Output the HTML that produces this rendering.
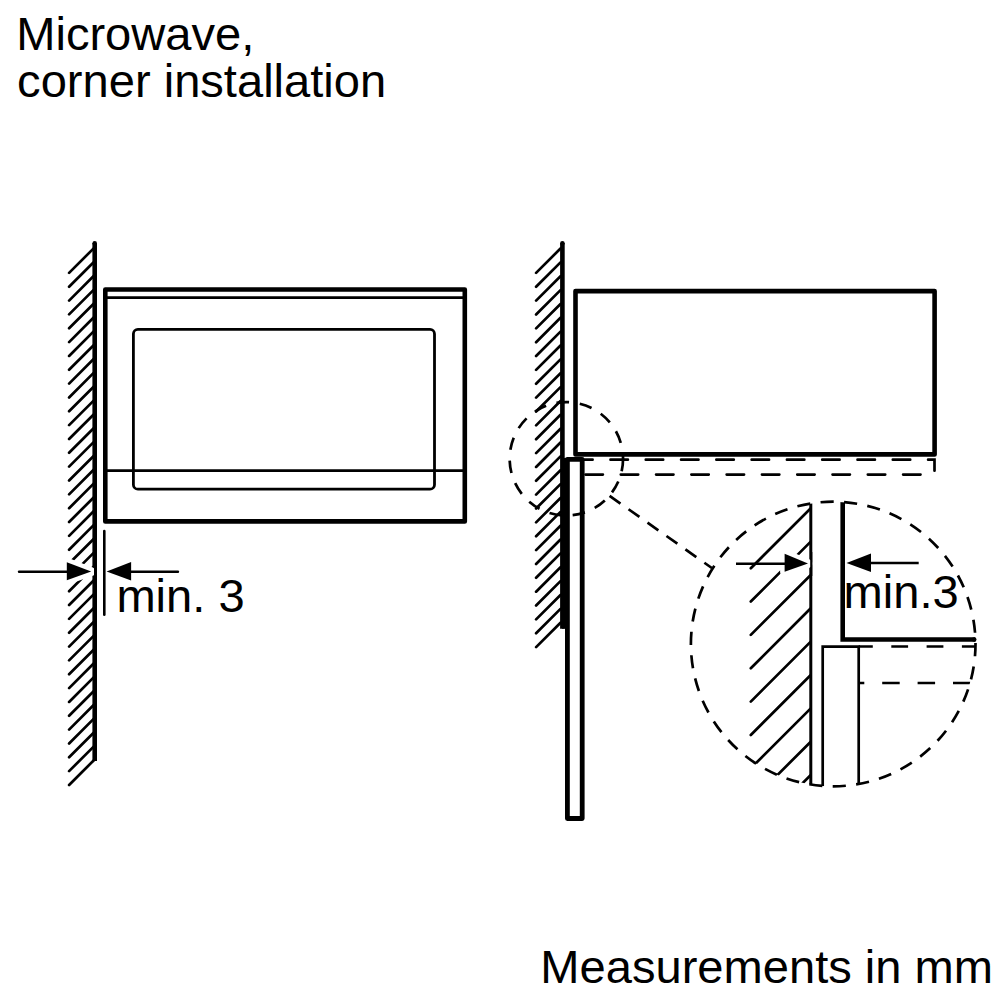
<!DOCTYPE html>
<html><head><meta charset="utf-8"><style>
html,body{margin:0;padding:0;background:#fff;width:1000px;height:1000px;overflow:hidden}
svg{display:block}
text{font-family:"Liberation Sans",sans-serif;fill:#000}
</style></head><body>
<svg width="1000" height="1000" viewBox="0 0 1000 1000">
<rect width="1000" height="1000" fill="#fff"/>
<path d="M69.1 272.90L94.4 247.60M69.1 286.74L94.4 261.44M69.1 300.58L94.4 275.28M69.1 314.42L94.4 289.12M69.1 328.26L94.4 302.96M69.1 342.10L94.4 316.80M69.1 355.94L94.4 330.64M69.1 369.78L94.4 344.48M69.1 383.62L94.4 358.32M69.1 397.46L94.4 372.16M69.1 411.30L94.4 386.00M69.1 425.14L94.4 399.84M69.1 438.98L94.4 413.68M69.1 452.82L94.4 427.52M69.1 466.66L94.4 441.36M69.1 480.50L94.4 455.20M69.1 494.34L94.4 469.04M69.1 508.18L94.4 482.88M69.1 522.02L94.4 496.72M69.1 535.86L94.4 510.56M69.1 549.70L94.4 524.40M69.1 563.54L94.4 538.24M69.1 577.38L94.4 552.08M69.1 591.22L94.4 565.92M69.1 605.06L94.4 579.76M69.1 618.90L94.4 593.60M69.1 632.74L94.4 607.44M69.1 646.58L94.4 621.28M69.1 660.42L94.4 635.12M69.1 674.26L94.4 648.96M69.1 688.10L94.4 662.80M69.1 701.94L94.4 676.64M69.1 715.78L94.4 690.48M69.1 729.62L94.4 704.32M69.1 743.46L94.4 718.16M69.1 757.30L94.4 732.00M69.1 771.14L94.4 745.84M69.1 784.98L94.4 759.68" stroke="#000" stroke-width="2.7" stroke-linecap="round" fill="none"/>
<path d="M94.7 761V243.2" stroke="#000" stroke-width="4.6" fill="none"/>
<circle cx="94.7" cy="243.2" r="2.3" fill="#000"/>
<rect x="105.3" y="289.5" width="359.5" height="231.9" stroke="#000" stroke-width="4.6" fill="none" stroke-linejoin="round"/>
<line x1="105.3" y1="297.6" x2="464.8" y2="297.6" stroke="#000" stroke-width="2.8"/>
<line x1="105.3" y1="470.6" x2="464.8" y2="470.6" stroke="#000" stroke-width="2.8"/>
<rect x="133.4" y="329.4" width="301.1" height="159.8" rx="4.5" stroke="#000" stroke-width="2.8" fill="none"/>
<line x1="104.3" y1="531.1" x2="104.3" y2="614.7" stroke="#000" stroke-width="2.6" stroke-linecap="round"/>
<polygon points="66.8,562.2 91.2,571.6 66.8,580.2" fill="#fff" stroke="#fff" stroke-width="9" stroke-linejoin="round"/>
<rect x="94" y="560" width="3" height="24" fill="#000"/>
<line x1="19.1" y1="571.7" x2="68" y2="571.7" stroke="#000" stroke-width="2.6" stroke-linecap="round"/>
<polygon points="66.8,562.2 91.2,571.6 66.8,580.2" fill="#000"/>
<line x1="130" y1="571.7" x2="177.9" y2="571.7" stroke="#000" stroke-width="2.6" stroke-linecap="round"/>
<polygon points="131.1,562.1 106.6,571.6 131.1,580.6" fill="#000"/>
<path d="M536.1 272.90L560.5 248.50M536.1 286.76L560.5 262.36M536.1 300.62L560.5 276.22M536.1 314.48L560.5 290.08M536.1 328.34L560.5 303.94M536.1 342.20L560.5 317.80M536.1 356.06L560.5 331.66M536.1 369.92L560.5 345.52M536.1 383.78L560.5 359.38M536.1 397.64L560.5 373.24M536.1 411.50L560.5 387.10M536.1 425.36L560.5 400.96M536.1 439.22L560.5 414.82M536.1 453.08L560.5 428.68M536.1 466.94L560.5 442.54M536.1 480.80L560.5 456.40M536.1 494.66L560.5 470.26M536.1 508.52L560.5 484.12M536.1 522.38L560.5 497.98M536.1 536.24L560.5 511.84M536.1 550.10L560.5 525.70M536.1 563.96L560.5 539.56M536.1 577.82L560.5 553.42M536.1 591.68L560.5 567.28M536.1 605.54L560.5 581.14M536.1 619.40L560.5 595.00M536.1 633.26L560.5 608.86M536.1 647.12L560.5 622.72" stroke="#000" stroke-width="2.7" stroke-linecap="round" fill="none"/>
<path d="M562.4 628.7V243.2" stroke="#000" stroke-width="4.6" fill="none"/>
<circle cx="562.4" cy="243.2" r="2.3" fill="#000"/>
<rect x="562" y="458" width="6" height="170.7" fill="#000"/>
<rect x="575.5" y="291.1" width="359.1" height="163.3" stroke="#000" stroke-width="4.6" fill="none" stroke-linejoin="round"/>
<rect x="567.4" y="459.4" width="14.8" height="359.1" stroke="#000" stroke-width="4.8" fill="none" stroke-linejoin="round"/>
<path d="M575.2 459.7H934.5V474.6H585" stroke="#000" stroke-width="2.7" fill="none" stroke-dasharray="17.4 17.89" stroke-linecap="round"/>
<path d="M623.05 458.80A56.7 56.7 0 0 1 621.66 471.27M618.29 481.54A56.7 56.7 0 0 1 612.02 492.40M604.82 500.46A56.7 56.7 0 0 1 594.72 507.89M584.88 512.39A56.7 56.7 0 0 1 572.65 515.15M561.84 515.32A56.7 56.7 0 0 1 549.53 512.95M539.56 508.77A56.7 56.7 0 0 1 529.23 501.66M521.77 493.83A56.7 56.7 0 0 1 515.16 483.17M511.46 473.02A56.7 56.7 0 0 1 509.68 460.60M510.37 449.81A56.7 56.7 0 0 1 513.71 437.73M518.67 428.12A56.7 56.7 0 0 1 526.58 418.39M534.97 411.57A56.7 56.7 0 0 1 546.12 405.83M556.54 402.95A56.7 56.7 0 0 1 569.06 402.16M579.76 403.71A56.7 56.7 0 0 1 591.54 408.00M600.73 413.71A56.7 56.7 0 0 1 609.80 422.37M615.92 431.28A56.7 56.7 0 0 1 620.76 442.85M622.80 453.46A56.7 56.7 0 0 1 623.05 458.80" stroke="#000" stroke-width="2.7" fill="none"/>
<path d="M609.60 495.90L620.47 503.57M628.56 509.27L639.42 516.94M647.51 522.65L658.38 530.31M666.47 536.02L677.34 543.69M685.43 549.40L696.30 557.06M704.39 562.77L711.80 568.00" stroke="#000" stroke-width="2.7" fill="none"/>
<defs><clipPath id="cc"><circle cx="833.2" cy="644" r="142.3"/></clipPath></defs>
<g clip-path="url(#cc)"><path d="M810.5 508.50L750.8 568.20M810.5 541.85L750.8 601.55M810.5 575.20L750.8 634.90M810.5 608.55L750.8 668.25M810.5 641.90L750.8 701.60M810.5 675.25L750.8 734.95M810.5 708.60L750.8 768.30M810.5 741.95L750.8 801.65M810.5 775.30L750.8 835.00M810.5 808.65L750.8 868.35" stroke="#000" stroke-width="2.7" stroke-linecap="round" fill="none"/><line x1="810.8" y1="490" x2="810.8" y2="800" stroke="#000" stroke-width="3"/><path d="M822.7 800V646.6H858.7V800" stroke="#000" stroke-width="2.7" fill="none"/><path d="M842.7 490V639.5H976.5" stroke="#000" stroke-width="4.6" fill="none"/><path d="M858.70 646.50L872.80 646.50M891.30 646.50L908.10 646.50M926.60 646.50L943.40 646.50M961.90 646.50L978.70 646.50M858.70 683.00L864.30 683.00M882.20 683.00L899.70 683.00M917.60 683.00L935.10 683.00M953.00 683.00L970.50 683.00M988.40 683.00L990.00 683.00" stroke="#000" stroke-width="2.7" fill="none"/></g>
<path d="M974.1 639.5h0.1" stroke="#000" stroke-width="4.6" stroke-linecap="round"/>
<path d="M975.50 643.11A142.3 142.3 0 0 1 974.97 656.25M973.70 666.54A142.3 142.3 0 0 1 971.02 679.42M968.08 689.36A142.3 142.3 0 0 1 963.31 701.62M958.77 710.94A142.3 142.3 0 0 1 952.05 722.25M946.04 730.70A142.3 142.3 0 0 1 937.55 740.75M930.23 748.09A142.3 142.3 0 0 1 920.20 756.60M911.78 762.64A142.3 142.3 0 0 1 900.48 769.39M891.18 773.95A142.3 142.3 0 0 1 878.93 778.75M869.00 781.72A142.3 142.3 0 0 1 856.12 784.44M845.84 785.74A142.3 142.3 0 0 1 832.70 786.30M822.34 785.89A142.3 142.3 0 0 1 809.28 784.28M799.13 782.16A142.3 142.3 0 0 1 786.52 778.43M776.86 774.67A142.3 142.3 0 0 1 765.03 768.91M756.12 763.62A142.3 142.3 0 0 1 745.40 755.98M737.48 749.30A142.3 142.3 0 0 1 728.17 740.01M721.46 732.11A142.3 142.3 0 0 1 713.80 721.41M708.48 712.51A142.3 142.3 0 0 1 702.68 700.70M698.90 691.05A142.3 142.3 0 0 1 695.13 678.44M692.99 668.30A142.3 142.3 0 0 1 691.35 655.25M690.90 644.89A142.3 142.3 0 0 1 691.43 631.75M692.70 621.46A142.3 142.3 0 0 1 695.38 608.58M698.32 598.64A142.3 142.3 0 0 1 703.09 586.38M707.63 577.06A142.3 142.3 0 0 1 714.35 565.75M720.36 557.30A142.3 142.3 0 0 1 728.85 547.25M736.17 539.91A142.3 142.3 0 0 1 746.20 531.40M754.62 525.36A142.3 142.3 0 0 1 765.92 518.61M775.22 514.05A142.3 142.3 0 0 1 787.47 509.25M797.40 506.28A142.3 142.3 0 0 1 810.28 503.56M820.56 502.26A142.3 142.3 0 0 1 833.70 501.70M844.06 502.11A142.3 142.3 0 0 1 857.12 503.72M867.27 505.84A142.3 142.3 0 0 1 879.88 509.57M889.54 513.33A142.3 142.3 0 0 1 901.37 519.09M910.28 524.38A142.3 142.3 0 0 1 921.00 532.02M928.92 538.70A142.3 142.3 0 0 1 938.23 547.99M944.94 555.89A142.3 142.3 0 0 1 952.60 566.59M957.92 575.49A142.3 142.3 0 0 1 963.72 587.30M967.50 596.95A142.3 142.3 0 0 1 971.27 609.56M973.41 619.70A142.3 142.3 0 0 1 975.05 632.75" stroke="#000" stroke-width="2.7" fill="none"/>
<polygon points="784.6,553.8 808,563.6 784.6,571.8" fill="#fff" stroke="#fff" stroke-width="9" stroke-linejoin="round"/>
<rect x="810.2" y="552" width="2.1" height="24" fill="#000"/>
<line x1="736" y1="563.7" x2="786" y2="563.7" stroke="#000" stroke-width="2.5"/>
<polygon points="784.6,553.8 808,563.6 784.6,571.8" fill="#000"/>
<line x1="870" y1="563" x2="918.7" y2="563" stroke="#000" stroke-width="2.5"/>
<polygon points="871,553.5 846.5,563 871,572" fill="#000"/>
<text x="16.2" y="50.2" font-size="47.1">Microwave,</text>
<text x="17.1" y="96.6" font-size="47.1">corner installation</text>
<text x="116.4" y="612" font-size="47.1">min. 3</text>
<text x="540.3" y="983" font-size="47.1">Measurements in mm</text>
<text x="843.6" y="608.4" font-size="47.1">min.3</text>
</svg></body></html>
